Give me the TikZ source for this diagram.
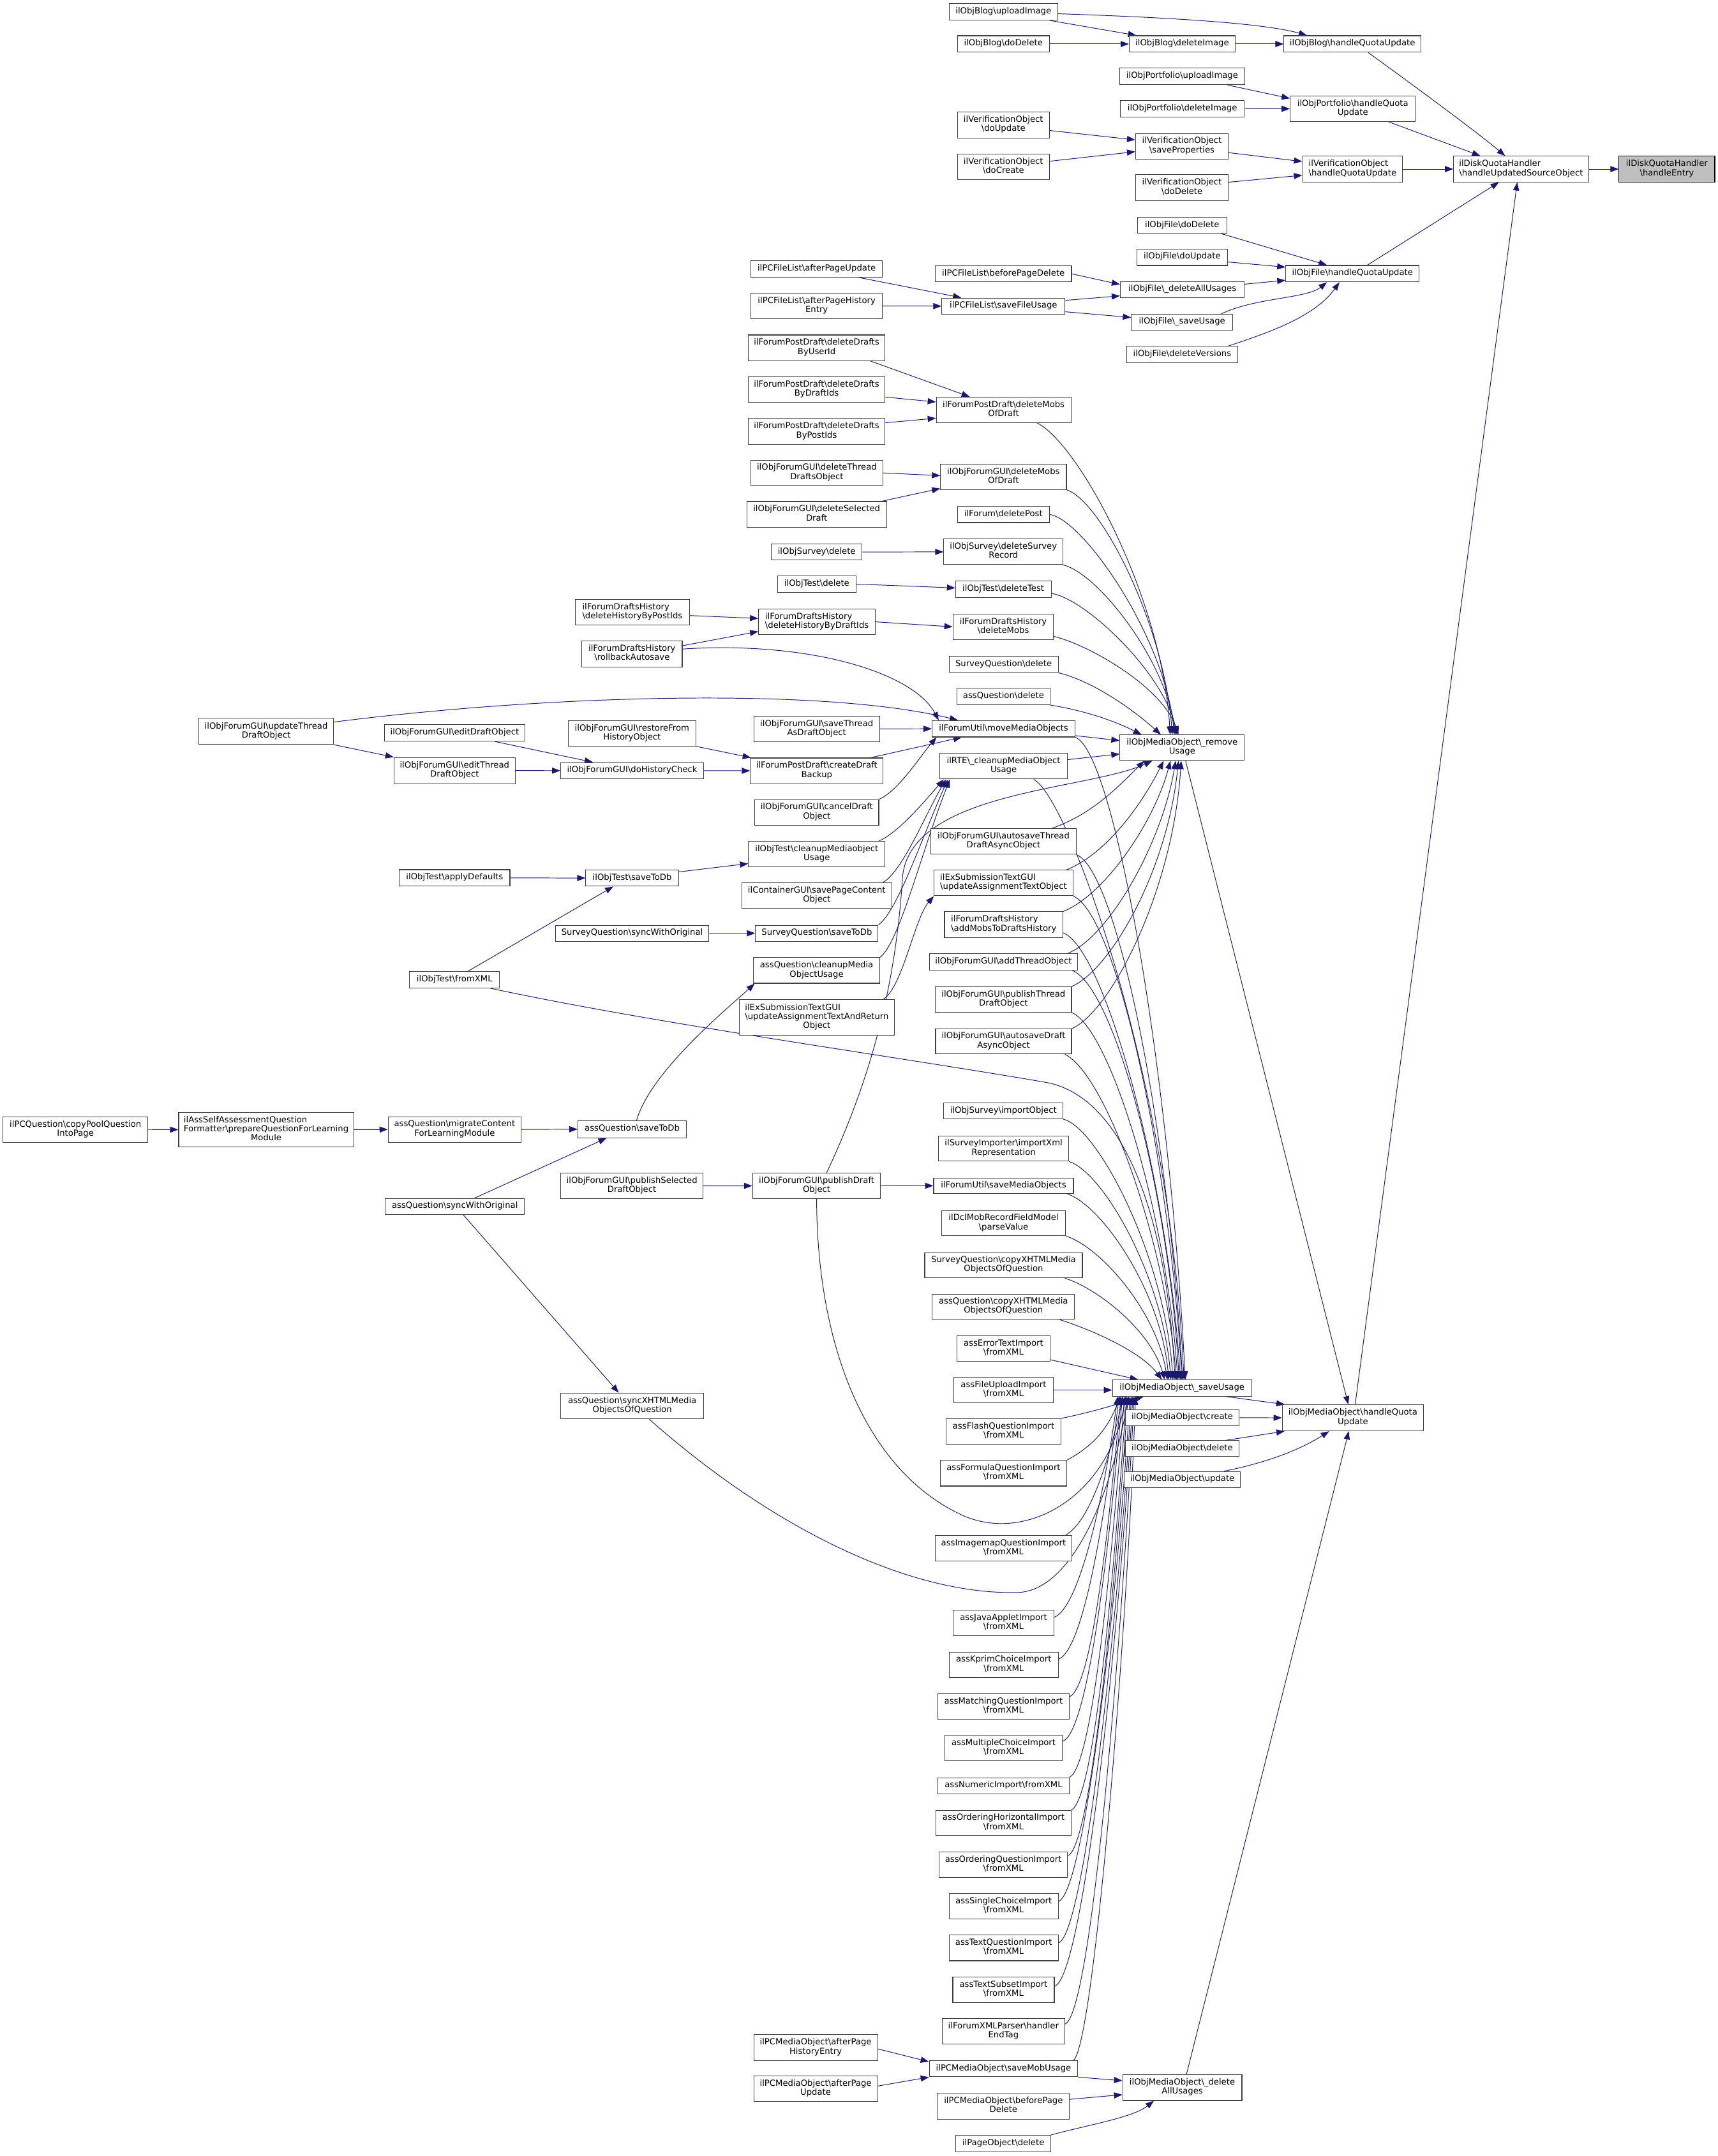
\documentclass[tikz,border=0pt]{standalone}
\usepackage{fontspec}
\newfontfamily\dejavu{DejaVu Sans}
\usetikzlibrary{arrows.meta,calc}
\definecolor{edgec}{HTML}{191970}
\definecolor{boxc}{HTML}{404040}
\definecolor{rootc}{HTML}{BFBFBF}
\newcommand\bksl{\textbackslash}
\newcommand\lone[1]{\begin{tabular}{@{}c@{}}#1\end{tabular}}
\newcommand\ltwo[2]{\begin{tabular}{@{}c@{}}\multicolumn{1}{@{}l@{}}{#1}\\#2\end{tabular}}
\newcommand\lthree[3]{\begin{tabular}{@{}c@{}}\multicolumn{1}{@{}l@{}}{#1}\\\multicolumn{1}{@{}l@{}}{#2}\\#3\end{tabular}}
\newcommand\nd[7][box]{\node[#1, minimum width={(#5)-(#3)}, minimum height={(#6)-(#4)}] (#2) at ({((#3)+(#5))/2},{((#4)+(#6))/2}) {#7};}
\pgfdeclarelayer{bg}
\pgfsetlayers{bg,main}
\begin{document}
\begin{tikzpicture}[x=1pt,y=-1pt,
  box/.style={draw=boxc, line width=0.5pt, fill=white, inner sep=0pt, rectangle,
    font=\dejavu\fontsize{6.13}{6.6}\selectfont},
  root/.style={box, draw=black, fill=rootc},
  e/.style={draw=edgec, line width=0.45pt, -{Triangle[length=6pt,width=4.4pt]}}]
\useasboundingbox (0,0) rectangle (1249,1567.8);
% ---------------- nodes ----------------
\nd[root]{hEntry}{1177}{113.6}{1246.7}{132.3}{\ltwo{ilDiskQuotaHandler}{\bksl handleEntry}}
\nd{updSrc}{1056.8}{113.6}{1154.9}{132.3}{\ltwo{ilDiskQuotaHandler}{\bksl handleUpdatedSourceObject}}
\nd{blogHQ}{933.5}{26}{1033}{38}{\lone{ilObjBlog\bksl handleQuotaUpdate}}
\nd{blogUp}{690}{2.6}{769}{14.6}{\lone{ilObjBlog\bksl uploadImage}}
\nd{blogDI}{821}{26}{898}{38}{\lone{ilObjBlog\bksl deleteImage}}
\nd{blogDD}{696}{26}{763}{38}{\lone{ilObjBlog\bksl doDelete}}
\nd{pfUp}{814}{49.5}{905}{61.6}{\lone{ilObjPortfolio\bksl uploadImage}}
\nd{pfDI}{814.5}{73}{904.7}{85}{\lone{ilObjPortfolio\bksl deleteImage}}
\nd{pfHQ}{938}{69.8}{1029}{88.4}{\ltwo{ilObjPortfolio\bksl handleQuota}{Update}}
\nd{voUpd}{696}{81.5}{763}{100.3}{\ltwo{ilVerificationObject}{\bksl doUpdate}}
\nd{voCre}{696}{112}{763}{130.5}{\ltwo{ilVerificationObject}{\bksl doCreate}}
\nd{voSP}{825.6}{97}{893}{115.6}{\ltwo{ilVerificationObject}{\bksl saveProperties}}
\nd{voDel}{825.6}{127}{893}{146}{\ltwo{ilVerificationObject}{\bksl doDelete}}
\nd{voHQ}{947}{113.6}{1019.7}{132.3}{\ltwo{ilVerificationObject}{\bksl handleQuotaUpdate}}
\nd{fDD}{827}{158}{891.8}{169.7}{\lone{ilObjFile\bksl doDelete}}
\nd{fDU}{826.4}{181}{892.5}{193}{\lone{ilObjFile\bksl doUpdate}}
\nd{fHQ}{934.8}{193}{1031.8}{205}{\lone{ilObjFile\bksl handleQuotaUpdate}}
\nd{fDAU}{814.5}{204.7}{904.7}{216.6}{\lone{ilObjFile\bksl\_deleteAllUsages}}
\nd{fSU}{822.6}{228.5}{896.2}{240.2}{\lone{ilObjFile\bksl\_saveUsage}}
\nd{fDV}{819}{251.8}{900}{263.6}{\lone{ilObjFile\bksl deleteVersions}}
\nd{plAU}{546}{189.6}{641.5}{201.4}{\lone{ilPCFileList\bksl afterPageUpdate}}
\nd{plAH}{546}{213.2}{641.5}{231.8}{\ltwo{ilPCFileList\bksl afterPageHistory}{Entry}}
\nd{plBD}{680}{193.3}{779}{205}{\lone{ilPCFileList\bksl beforePageDelete}}
\nd{plSF}{684.8}{216.7}{774.3}{228.5}{\lone{ilPCFileList\bksl saveFileUsage}}
\nd{fpdU}{543.9}{243.6}{643.5}{262.2}{\ltwo{ilForumPostDraft\bksl deleteDrafts}{ByUserId}}
\nd{fpdD}{543.9}{274}{643.5}{292.5}{\ltwo{ilForumPostDraft\bksl deleteDrafts}{ByDraftIds}}
\nd{fpdP}{543.9}{304.3}{643.5}{323}{\ltwo{ilForumPostDraft\bksl deleteDrafts}{ByPostIds}}
\nd{fpdM}{680.7}{288.8}{778.6}{307.4}{\ltwo{ilForumPostDraft\bksl deleteMobs}{OfDraft}}
\nd{ofgDT}{546}{334.8}{641.7}{353}{\ltwo{ilObjForumGUI\bksl deleteThread}{DraftsObject}}
\nd{ofgDS}{543}{364.7}{644.5}{383.3}{\ltwo{ilObjForumGUI\bksl deleteSelected}{Draft}}
\nd{ofgDM}{683.8}{337.7}{775.3}{356}{\ltwo{ilObjForumGUI\bksl deleteMobs}{OfDraft}}
\nd{fDP}{696}{368.3}{763}{380}{\lone{ilForum\bksl deletePost}}
\nd{osD}{560.7}{395.5}{626.8}{407.3}{\lone{ilObjSurvey\bksl delete}}
\nd{osDR}{686.2}{392}{772.8}{410.6}{\ltwo{ilObjSurvey\bksl deleteSurvey}{Record}}
\nd{otD}{565.3}{418.9}{622.4}{430.6}{\lone{ilObjTest\bksl delete}}
\nd{otDT}{694.7}{422.6}{764.2}{434.4}{\lone{ilObjTest\bksl deleteTest}}
\nd{fdhBP}{418.3}{436}{501.2}{454.6}{\ltwo{ilForumDraftsHistory}{\bksl deleteHistoryByPostIds}}
\nd{fdhBD}{551.5}{442.9}{636.4}{461.5}{\ltwo{ilForumDraftsHistory}{\bksl deleteHistoryByDraftIds}}
\nd{fdhDM}{692.8}{446.6}{766}{465}{\ltwo{ilForumDraftsHistory}{\bksl deleteMobs}}
\nd{fdhRA}{423}{466.2}{496}{484.9}{\ltwo{ilForumDraftsHistory}{\bksl rollbackAutosave}}
\nd{sqD}{690}{477.2}{769.3}{489}{\lone{SurveyQuestion\bksl delete}}
\nd{aqD}{695.7}{500.6}{763.5}{512.5}{\lone{assQuestion\bksl delete}}
\nd{ofgUT}{144.5}{522.4}{242.5}{541.3}{\ltwo{ilObjForumGUI\bksl updateThread}{DraftObject}}
\nd{ofgED}{279.6}{527}{381.5}{539}{\lone{ilObjForumGUI\bksl editDraftObject}}
\nd{ofgRH}{413}{524}{506}{542.5}{\ltwo{ilObjForumGUI\bksl restoreFrom}{HistoryObject}}
\nd{ofgST}{548}{520.7}{639.5}{539.4}{\ltwo{ilObjForumGUI\bksl saveThread}{AsDraftObject}}
\nd{fuMM}{677.7}{524}{781.5}{535.9}{\lone{ilForumUtil\bksl moveMediaObjects}}
\nd{rmU}{814.2}{534.4}{904.7}{553}{\ltwo{ilObjMediaObject\bksl\_remove}{Usage}}
\nd{ofgET}{286.4}{550.8}{374.6}{569.8}{\ltwo{ilObjForumGUI\bksl editThread}{DraftObject}}
\nd{ofgHC}{407.6}{554.5}{511.6}{566.3}{\lone{ilObjForumGUI\bksl doHistoryCheck}}
\nd{fpdB}{545.6}{551.2}{642}{569.8}{\ltwo{ilForumPostDraft\bksl createDraft}{Backup}}
\nd{rte}{683.4}{547.9}{775.9}{566.5}{\ltwo{ilRTE\bksl\_cleanupMediaObject}{Usage}}
\nd{ofgCD}{548.7}{581.4}{638.9}{600}{\ltwo{ilObjForumGUI\bksl cancelDraft}{Object}}
\nd{ofgAT}{676.9}{602.6}{782.3}{621.2}{\ltwo{ilObjForumGUI\bksl autosaveThread}{DraftAsyncObject}}
\nd{otCM}{544.2}{611.7}{643.4}{630.3}{\ltwo{ilObjTest\bksl cleanupMediaobject}{Usage}}
\nd{otAD}{290.3}{632.4}{370.7}{644.3}{\lone{ilObjTest\bksl applyDefaults}}
\nd{otSD}{425.9}{632.6}{493.3}{644.4}{\lone{ilObjTest\bksl saveToDb}}
\nd{cgSP}{539.4}{641.9}{648.2}{660.5}{\ltwo{ilContainerGUI\bksl savePageContent}{Object}}
\nd{exUT}{679.2}{632.8}{780}{651.4}{\ltwo{ilExSubmissionTextGUI}{\bksl updateAssignmentTextObject}}
\nd{sqSW}{404}{672.8}{515.2}{684.5}{\lone{SurveyQuestion\bksl syncWithOriginal}}
\nd{sqSD}{549.3}{672.8}{638.4}{684.5}{\lone{SurveyQuestion\bksl saveToDb}}
\nd{fdhAM}{686.7}{663}{772.8}{681.7}{\ltwo{ilForumDraftsHistory}{\bksl addMobsToDraftsHistory}}
\nd{ofgAdd}{675.8}{693.6}{783.4}{705.5}{\lone{ilObjForumGUI\bksl addThreadObject}}
\nd{otFX}{297.8}{706.6}{363.2}{718.4}{\lone{ilObjTest\bksl fromXML}}
\nd{aqCM}{547.9}{696.4}{639.5}{715}{\ltwo{assQuestion\bksl cleanupMedia}{ObjectUsage}}
\nd{ofgPT}{680}{717.5}{779}{736.1}{\ltwo{ilObjForumGUI\bksl publishThread}{DraftObject}}
\nd{exUR}{537.5}{727}{650.2}{752.6}{\lthree{ilExSubmissionTextGUI}{\bksl updateAssignmentTextAndReturn}{Object}}
\nd{ofgAD}{680.2}{748.2}{779}{766.4}{\ltwo{ilObjForumGUI\bksl autosaveDraft}{AsyncObject}}
\nd{osIO}{686.2}{802.2}{772.8}{813.6}{\lone{ilObjSurvey\bksl importObject}}
\nd{pcq}{2.3}{812}{107.4}{830.7}{\ltwo{ilPCQuestion\bksl copyPoolQuestion}{IntoPage}}
\nd{aSelf}{129.9}{808.9}{257.1}{834}{\lthree{ilAssSelfAssessmentQuestion}{Formatter\bksl prepareQuestionForLearning}{Module}}
\nd{aqMC}{282.2}{812}{378.9}{830.7}{\ltwo{assQuestion\bksl migrateContent}{ForLearningModule}}
\nd{aqSD}{420.2}{815}{499}{827.3}{\lone{assQuestion\bksl saveToDb}}
\nd{siX}{682.3}{825.9}{777}{844.4}{\ltwo{ilSurveyImporter\bksl importXml}{Representation}}
\nd{ofgPS}{407.8}{853.2}{511}{871.6}{\ltwo{ilObjForumGUI\bksl publishSelected}{DraftObject}}
\nd{ofgPD}{547.2}{853}{640.2}{871.6}{\ltwo{ilObjForumGUI\bksl publishDraft}{Object}}
\nd{fuSM}{678.8}{856.7}{780.4}{867.8}{\lone{ilForumUtil\bksl saveMediaObjects}}
\nd{aqSW}{280.2}{871.5}{381.2}{883.2}{\lone{assQuestion\bksl syncWithOriginal}}
\nd{dcl}{684.4}{880.3}{774.8}{898.6}{\ltwo{ilDclMobRecordFieldModel}{\bksl parseValue}}
\nd{sqCX}{672.3}{910.9}{786.9}{929.2}{\ltwo{SurveyQuestion\bksl copyXHTMLMedia}{ObjectsOfQuestion}}
\nd{aqCX}{677.7}{941}{781.3}{959.4}{\ltwo{assQuestion\bksl copyXHTMLMedia}{ObjectsOfQuestion}}
\nd{aErr}{695.8}{971.5}{763.3}{990}{\ltwo{assErrorTextImport}{\bksl fromXML}}
\nd{sU}{808.8}{1003.5}{910}{1015.3}{\lone{ilObjMediaObject\bksl\_saveUsage}}
\nd{aFU}{693.5}{1001.6}{765.7}{1020}{\ltwo{assFileUploadImport}{\bksl fromXML}}
\nd{moHQ}{932.2}{1021.5}{1035}{1040.5}{\ltwo{ilObjMediaObject\bksl handleQuota}{Update}}
\nd{moC}{818}{1025.1}{901}{1036.6}{\lone{ilObjMediaObject\bksl create}}
\nd{aqSX}{407.7}{1013}{511.6}{1031.8}{\ltwo{assQuestion\bksl syncXHTMLMedia}{ObjectsOfQuestion}}
\nd{aFl}{687.9}{1031.6}{771.4}{1050.1}{\ltwo{assFlashQuestionImport}{\bksl fromXML}}
\nd{moD}{818}{1047.6}{901}{1059.1}{\lone{ilObjMediaObject\bksl delete}}
\nd{aFo}{683.5}{1061.9}{775.7}{1080.6}{\ltwo{assFormulaQuestionImport}{\bksl fromXML}}
\nd{moU}{817.2}{1070}{901.9}{1081.6}{\lone{ilObjMediaObject\bksl update}}
\nd{aIm}{679.8}{1116.6}{779.4}{1135}{\ltwo{assImagemapQuestionImport}{\bksl fromXML}}
\nd{aJA}{693}{1170.8}{766.2}{1189.3}{\ltwo{assJavaAppletImport}{\bksl fromXML}}
\nd{aKp}{690.2}{1201.3}{769.3}{1219.8}{\ltwo{assKprimChoiceImport}{\bksl fromXML}}
\nd{aMa}{682}{1231.7}{777.2}{1250.1}{\ltwo{assMatchingQuestionImport}{\bksl fromXML}}
\nd{aMC}{686.9}{1262}{772.4}{1280.5}{\ltwo{assMultipleChoiceImport}{\bksl fromXML}}
\nd{aNu}{682}{1292.7}{777.2}{1304.3}{\lone{assNumericImport\bksl fromXML}}
\nd{aOH}{680.6}{1316.4}{778.6}{1334.8}{\ltwo{assOrderingHorizontalImport}{\bksl fromXML}}
\nd{aOQ}{682.7}{1346.6}{776.2}{1365.2}{\ltwo{assOrderingQuestionImport}{\bksl fromXML}}
\nd{aSC}{690}{1376.8}{769.4}{1395.4}{\ltwo{assSingleChoiceImport}{\bksl fromXML}}
\nd{aTQ}{690}{1407.2}{769.4}{1425.8}{\ltwo{assTextQuestionImport}{\bksl fromXML}}
\nd{aTS}{692.7}{1437.7}{766.5}{1456.3}{\ltwo{assTextSubsetImport}{\bksl fromXML}}
\nd{fxp}{685}{1467.9}{774.1}{1486.4}{\ltwo{ilForumXMLParser\bksl handler}{EndTag}}
\nd{pcmAH}{548}{1479.5}{638}{1498.3}{\ltwo{ilPCMediaObject\bksl afterPage}{HistoryEntry}}
\nd{pcmSM}{675.6}{1498.5}{783.6}{1510.2}{\lone{ilPCMediaObject\bksl saveMobUsage}}
\nd{moDA}{816.2}{1508.8}{902.9}{1527.4}{\ltwo{ilObjMediaObject\bksl\_delete}{AllUsages}}
\nd{pcmAU}{548}{1509.5}{638}{1528.3}{\ltwo{ilPCMediaObject\bksl afterPage}{Update}}
\nd{pcmBD}{681.5}{1522.2}{777.6}{1540.9}{\ltwo{ilPCMediaObject\bksl beforePage}{Delete}}
\nd{pgD}{695}{1552.7}{763.9}{1564.8}{\lone{ilPageObject\bksl delete}}
% ---------------- edges ----------------
\begin{pgfonlayer}{bg}
\fill[white] (0,0) rectangle (1249,1567.8);
% top cluster
\draw[e] (updSrc.east) -- (hEntry.west);
\draw[e] ([xshift=61.5pt]blogHQ.south west) .. controls +(25,18) and +(-20,-17) .. ([xshift=37.7pt]updSrc.north west);
\draw[e] ([xshift=72pt]pfHQ.south west) -- ([xshift=19.7pt]updSrc.north west);
\draw[e] (voHQ.east) -- (updSrc.west);
\draw[e] ([xshift=59.6pt]fHQ.north west) -- ([xshift=33.2pt]updSrc.south west);
\draw[e] ([xshift=53.3pt]moHQ.north west) -- ([xshift=46.5pt]updSrc.south west);
\draw[e] ([yshift=-1.4pt]blogUp.east) .. controls +(60,2) and +(-35,-10) .. ([xshift=17pt]blogHQ.north west);
\draw[e] ([xshift=-6.2pt]blogUp.south east) -- ([xshift=5.4pt]blogDI.north west);
\draw[e] (blogDD.east) -- (blogDI.west);
\draw[e] (blogDI.east) -- (blogHQ.west);
\draw[e] ([xshift=-12.7pt]pfUp.south east) -- ([yshift=-2pt]pfHQ.north west);
\draw[e] (pfDI.east) -- (pfHQ.west);
\draw[e] ([yshift=-4pt]voUpd.east) -- ([yshift=4.6pt]voSP.west);
\draw[e] ([yshift=4pt]voCre.east) -- ([yshift=-4pt]voSP.west);
\draw[e] ([yshift=-4.7pt]voSP.east) -- ([yshift=5.5pt]voHQ.west);
\draw[e] ([yshift=4pt]voDel.east) -- ([yshift=-4.5pt]voHQ.west);
\draw[e] ([xshift=-4pt]fDD.south east) -- ([xshift=30.2pt]fHQ.north west);
\draw[e] ([yshift=-3.5pt]fDU.east) -- ([yshift=-1.5pt]fHQ.north west);
\draw[e] ([yshift=4pt]fDAU.east) -- ([yshift=-4.8pt]fHQ.west);
\draw[e] ([xshift=-8.6pt]fSU.north east) .. controls +(25,-12) and +(-15,12) .. ([xshift=30.1pt]fHQ.south west);
\draw[e] ([xshift=-7pt]fDV.north east) .. controls +(30,-10) and +(-18,25) .. ([xshift=39.3pt]fHQ.south west);
\draw[e] (plBD.east) -- ([yshift=3.8pt]fDAU.west);
\draw[e] ([yshift=4.2pt]plSF.east) -- ([yshift=-4.5pt]fDAU.west);
\draw[e] ([yshift=-4.1pt]plSF.east) -- ([yshift=3.5pt]fSU.west);
\draw[e] ([xshift=30pt]plAU.south) -- ([xshift=-30.7pt]plSF.north);
\draw[e] (plAH.east) -- (plSF.west);
% forum drafts
\draw[e] ([xshift=38.9pt]fpdU.south) -- ([xshift=-24.6pt]fpdM.north);
\draw[e] ([yshift=-5.5pt]fpdD.east) -- ([yshift=5.8pt]fpdM.west);
\draw[e] ([yshift=6.2pt]fpdP.east) -- ([yshift=-6pt]fpdM.west);
\draw[e] (ofgDT.east) -- ([yshift=1pt]ofgDM.west);
\draw[e] ([xshift=-3.6pt]ofgDS.north east) -- ([yshift=1pt]ofgDM.south west);
\draw[e] (osD.east) -- (osDR.west);
\draw[e] (otD.east) -- ([yshift=1pt]otDT.west);
\draw[e] ([yshift=-2.3pt]fdhBP.east) -- ([yshift=2.5pt]fdhBD.west);
\draw[e] ([yshift=6pt]fdhRA.east) -- ([yshift=-7pt]fdhBD.west);
\draw[e] (fdhBD.east) -- (fdhDM.west);
\draw[e] (ofgST.east) -- (fuMM.west);
\draw[e] ([xshift=-9.2pt]fpdB.north east) -- ([xshift=21.7pt]fuMM.south west);
\draw[e] (ofgCD.north east) .. controls +(14,-6) and +(-12,14) .. ([xshift=3.4pt]fuMM.south west);
\draw[e] ([yshift=3.6pt]fdhRA.east) .. controls +(94,-6) and +(-18,-34) .. ([xshift=5pt]fuMM.north west);
\draw[e] ([yshift=6.8pt]ofgUT.east) .. controls +(157,-20) and +(-97,-24) .. ([xshift=19pt]fuMM.north west);
\draw[e] (ofgUT.south east) -- (ofgET.north west);
\draw[e] ([xshift=-21.8pt]ofgED.south east) -- ([xshift=23.7pt]ofgHC.north west);
\draw[e] (ofgET.east) -- (ofgHC.west);
\draw[e] (ofgRH.south east) -- ([xshift=0.6pt]fpdB.north west);
\draw[e] (ofgHC.east) -- (fpdB.west);
\draw[e] ([yshift=-5pt]fuMM.east) -- ([yshift=5.2pt]rmU.west);
\draw[e] ([yshift=4.8pt]rte.east) -- ([yshift=-4.6pt]rmU.west);
% into removeUsage from above
\draw[e] ([xshift=24.5pt]fpdM.south) .. controls +(30,15) and +(-6,-100) .. ([xshift=36.8pt]rmU.north west);
\draw[e] (ofgDM.south east) .. controls +(25,8) and +(-6,-80) .. ([xshift=38.3pt]rmU.north west);
\draw[e] (fDP.east) .. controls +(25,4) and +(-7,-70) .. ([xshift=39.8pt]rmU.north west);
\draw[e] (osDR.south east) .. controls +(25,6) and +(-8,-55) .. ([xshift=40.8pt]rmU.north west);
\draw[e] ([yshift=-3pt]otDT.east) .. controls +(25,4) and +(-10,-45) .. ([xshift=41.8pt]rmU.north west);
\draw[e] ([yshift=-7pt]fdhDM.east) .. controls +(25,6) and +(-12,-35) .. ([xshift=42.8pt]rmU.north west);
\draw[e] (sqD.south east) .. controls +(25,6) and +(-20,-18) .. ([xshift=30pt]rmU.north west);
\draw[e] (aqD.south east) .. controls +(25,4) and +(-20,-10) .. ([xshift=16pt]rmU.north west);
% into removeUsage from below
\draw[e] ([xshift=7.3pt]ofgPD.north) .. controls (640,770) and (652,700) .. (656,640) .. controls (659,575) and (790,575) .. ([xshift=23.8pt]rmU.south west);
\draw[e] ([xshift=-17.8pt]ofgAT.north east) .. controls +(28,-10) and +(-22,22) .. ([xshift=18pt]rmU.south west);
\draw[e] ([xshift=-5pt]exUT.north east) .. controls +(30,-12) and +(-15,30) .. ([xshift=32pt]rmU.south west);
\draw[e] (fdhAM.north east) .. controls +(30,-12) and +(-12,45) .. ([xshift=37pt]rmU.south west);
\draw[e] ([xshift=-7.5pt]ofgAdd.north east) .. controls +(30,-12) and +(-10,60) .. ([xshift=40.8pt]rmU.south west);
\draw[e] (ofgPT.north east) .. controls +(28,-12) and +(-8,80) .. ([xshift=42.8pt]rmU.south west);
\draw[e] (ofgAD.north east) .. controls +(28,-12) and +(-6,95) .. ([xshift=44.8pt]rmU.south west);
% into ilRTE cleanup and friends
\draw[e] ([xshift=-4.5pt]otCM.north east) .. controls +(14,-6) and +(-14,16) .. ([xshift=3pt]rte.south west);
\draw[e] ([xshift=-6.5pt]cgSP.north east) .. controls +(14,-8) and +(-16,28) .. ([xshift=4.5pt]rte.south west);
\draw[e] (sqSD.north east) .. controls +(14,-10) and +(-18,40) .. ([xshift=6pt]rte.south west);
\draw[e] (aqCM.north east) .. controls +(14,-10) and +(-20,50) .. ([xshift=7.5pt]rte.south west);
\draw[e] ([xshift=-8.5pt]exUR.north east) .. controls +(14,-8) and +(-14,16) .. (exUT.south west);
% test / question chains
\draw[e] ([yshift=4.5pt]otSD.east) -- ([yshift=-7pt]otCM.west);
\draw[e] (otAD.east) -- (otSD.west);
\draw[e] ([xshift=9.6pt]otFX.north) -- ([xshift=-13.7pt]otSD.south);
\draw[e] (sqSW.east) -- (sqSD.west);
\draw[e] ([xshift=3.2pt]aqSD.north) .. controls +(10,-35) and +(-22,20) .. ([xshift=1pt]aqCM.south west);
\draw[e] (aqMC.east) -- (aqSD.west);
\draw[e] (aSelf.east) -- (aqMC.west);
\draw[e] (pcq.east) -- (aSelf.west);
\draw[e] ([xshift=14.3pt]aqSW.north) -- ([xshift=-18.6pt]aqSD.south);
\draw[e] ([xshift=6.2pt]aqSW.south) -- ([xshift=-9.8pt]aqSX.north);
\draw[e] (ofgPS.east) -- (ofgPD.west);
\draw[e] (ofgPD.east) -- (fuSM.west);
% into saveUsage from above
\draw[e] (fuMM.south east) .. controls +(28,10) and +(-12,-230) .. ([xshift=53.2pt]sU.north west);
\draw[e] ([xshift=21.8pt]rte.south) .. controls +(25,12) and +(-10,-220) .. ([xshift=52.2pt]sU.north west);
\draw[e] (ofgAT.south east) .. controls +(30,12) and +(-10,-180) .. ([xshift=51.2pt]sU.north west);
\draw[e] (exUT.south east) .. controls +(30,12) and +(-10,-170) .. ([xshift=50.7pt]sU.north west);
\draw[e] ([yshift=-6pt]fdhAM.east) .. controls +(30,12) and +(-10,-150) .. ([xshift=49.7pt]sU.north west);
\draw[e] ([xshift=-4pt]ofgAdd.south east) .. controls +(30,12) and +(-8,-140) .. ([xshift=48.7pt]sU.north west);
\draw[e] (ofgPT.south east) .. controls +(28,12) and +(-8,-120) .. ([xshift=47.7pt]sU.north west);
\draw[e] ([xshift=-5pt]ofgAD.south east) .. controls +(30,15) and +(-8,-100) .. ([xshift=46.7pt]sU.north west);
\draw[e] ([xshift=-7pt]otFX.south east) .. controls (480,745) and (650,768) .. (760,787) .. controls (815,796.5) and (848,880) .. ([xshift=45.7pt]sU.north west);
\draw[e] (osIO.south east) .. controls +(25,6) and +(-6,-90) .. ([xshift=44.2pt]sU.north west);
\draw[e] (siX.south east) .. controls +(25,8) and +(-6,-75) .. ([xshift=42.7pt]sU.north west);
\draw[e] ([xshift=-5pt]fuSM.south east) .. controls +(25,8) and +(-6,-65) .. ([xshift=41.2pt]sU.north west);
\draw[e] (dcl.south east) .. controls +(25,8) and +(-8,-50) .. ([xshift=40.2pt]sU.north west);
\draw[e] ([xshift=-13pt]sqCX.south east) .. controls +(25,8) and +(-10,-35) .. ([xshift=38.2pt]sU.north west);
\draw[e] ([xshift=-11pt]aqCX.south east) .. controls +(25,8) and +(-15,-20) .. ([xshift=36.2pt]sU.north west);
\draw[e] ([yshift=1.5pt]aErr.south east) -- ([xshift=18.9pt]sU.north west);
\draw[e] (aFU.east) -- (aFU.east -| sU.west);
% into saveUsage from below
\draw[e] (aFl.north east) .. controls +(25,-5) and +(-15,4) .. ([xshift=23pt]sU.south west);
\draw[e] (aFo.north east) .. controls +(18,-10) and +(-10,25) .. ([xshift=6pt]sU.south west);
\draw[e] (ofgPD.south) .. controls (594,980) and (630,1070) .. (700,1102) .. controls (745,1122) and (805,1090) .. ([xshift=10pt]sU.south west);
\draw[e] ([xshift=-5pt]aIm.north east) .. controls +(18,-10) and +(-10,45) .. ([xshift=8pt]sU.south west);
\draw[e] ([xshift=12.4pt]aqSX.south) .. controls (560,1110) and (660,1160) .. (740,1158) .. controls (775,1157) and (805,1100) .. ([xshift=12pt]sU.south west);
\draw[e] ([yshift=4pt]aJA.east) .. controls +(20,-8) and +(-8,60) .. ([xshift=4pt]sU.south west);
\draw[e] ([yshift=4pt]aKp.east) .. controls +(20,-8) and +(-8,70) .. ([xshift=5pt]sU.south west);
\draw[e] ([yshift=7pt]aMa.east) .. controls +(18,-8) and +(-8,80) .. ([xshift=6.5pt]sU.south west);
\draw[e] ([yshift=5pt]aMC.east) .. controls +(20,-8) and +(-8,90) .. ([xshift=7.5pt]sU.south west);
\draw[e] (aNu.north east) .. controls +(18,-8) and +(-8,100) .. ([xshift=9pt]sU.south west);
\draw[e] (aOH.north east) .. controls +(18,-8) and +(-8,110) .. ([xshift=10.5pt]sU.south west);
\draw[e] ([yshift=6.5pt]aOQ.east) .. controls +(18,-8) and +(-8,120) .. ([xshift=11.5pt]sU.south west);
\draw[e] ([yshift=3.5pt]aSC.east) .. controls +(20,-8) and +(-8,130) .. ([xshift=13pt]sU.south west);
\draw[e] ([yshift=3.7pt]aTQ.east) .. controls +(20,-8) and +(-8,140) .. ([xshift=14pt]sU.south west);
\draw[e] ([yshift=2.6pt]aTS.east) .. controls +(22,-8) and +(-8,150) .. ([xshift=15pt]sU.south west);
\draw[e] ([yshift=5.3pt]fxp.east) .. controls +(20,-8) and +(-8,160) .. ([xshift=16pt]sU.south west);
\draw[e] ([xshift=-3.4pt]pcmSM.north east) .. controls +(15,-12) and +(-6,170) .. ([xshift=17pt]sU.south west);
% media object quota
\draw[e] ([xshift=2.5pt]rmU.south) -- ([xshift=48.3pt]moHQ.north west);
\draw[e] ([xshift=32pt]sU.south) -- ([xshift=2pt]moHQ.north west);
\draw[e] (moC.east) -- (moHQ.west);
\draw[e] ([xshift=-10pt]moD.north east) -- ([xshift=2pt]moHQ.south west);
\draw[e] ([xshift=30.5pt]moU.north) .. controls +(30,-6) and +(-22,14) .. ([xshift=-17.3pt]moHQ.south);
\draw[e] ([xshift=3pt]moDA.north) -- ([xshift=-3pt]moHQ.south);
% bottom
\draw[e] (pcmSM.south east) -- ([yshift=5.1pt]moDA.west);
\draw[e] ([yshift=5pt]pcmBD.east) -- ([yshift=-5.1pt]moDA.west);
\draw[e] (pgD.north east) .. controls +(30,-8) and +(-15,12) .. ([xshift=-20.7pt]moDA.south);
\draw[e] ([yshift=-1pt]pcmAH.east) -- ([yshift=-1pt]pcmSM.north west);
\draw[e] ([yshift=2pt]pcmAU.east) -- (pcmSM.south west);
\end{pgfonlayer}
\end{tikzpicture}
\end{document}
